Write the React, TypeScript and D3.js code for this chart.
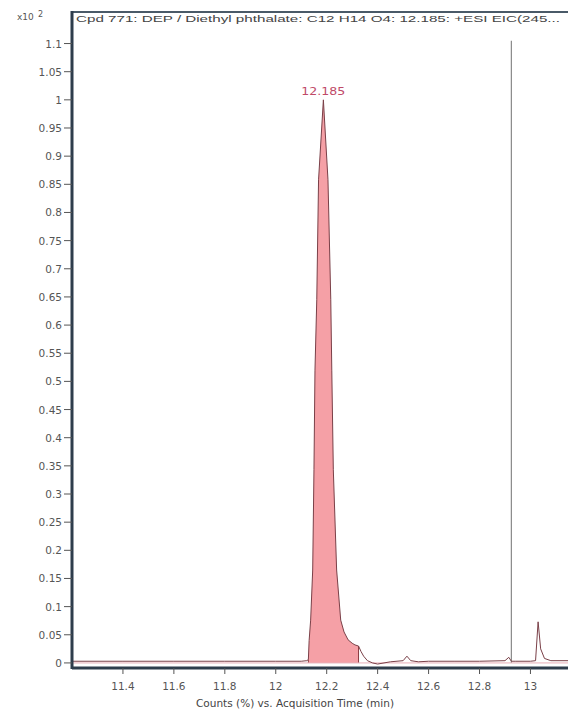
import React from "react";
import * as d3 from "d3";

const times = [11.2, 11.4, 11.6, 11.8, 12.0, 12.1, 12.122, 12.128, 12.131, 12.137, 12.145, 12.15, 12.154, 12.161, 12.168, 12.187, 12.205, 12.216, 12.22, 12.226, 12.239, 12.255, 12.268, 12.284, 12.3, 12.311, 12.325, 12.335, 12.345, 12.36, 12.38, 12.4, 12.45, 12.5, 12.515, 12.53, 12.56, 12.6, 12.7, 12.8, 12.9, 12.915, 12.925, 12.94, 13.0, 13.02, 13.03, 13.04, 13.055, 13.08, 13.2];
const counts = [0.003, 0.003, 0.003, 0.003, 0.003, 0.003, 0.004, 0.006, 0.04, 0.076, 0.165, 0.343, 0.52, 0.645, 0.858, 1.0, 0.858, 0.645, 0.52, 0.343, 0.165, 0.076, 0.055, 0.041, 0.035, 0.032, 0.03, 0.02, 0.012, 0.004, 0.0, -0.002, 0.002, 0.004, 0.012, 0.004, 0.002, 0.003, 0.003, 0.003, 0.004, 0.01, 0.003, 0.003, 0.003, 0.004, 0.073, 0.025, 0.008, 0.004, 0.004];
const fillStart = 12.128;
const fillEnd = 12.325;
const peakLabel = "12.185";
const markerTime = 12.925;
const yTicks = [0, 0.05, 0.1, 0.15, 0.2, 0.25, 0.3, 0.35, 0.4, 0.45, 0.5, 0.55, 0.6, 0.65, 0.7, 0.75, 0.8, 0.85, 0.9, 0.95, 1, 1.05, 1.1];
const xTicks = [11.4, 11.6, 11.8, 12, 12.2, 12.4, 12.6, 12.8, 13];
const title = "Cpd 771: DEP / Diethyl phthalate: C12 H14 O4: 12.185: +ESI EIC(245...";
const xTitle = "Counts (%) vs. Acquisition Time (min)";

export default function App() {
  const W = 568, H = 711;
  const left = 72, top = 12, bottom = 668;
  const x = d3.scaleLinear().domain([11.2, 13.2]).range([left, left + 2 * 254.7]);
  const y = d3.scaleLinear().domain([-0.009, 1.156]).range([bottom, top]);
  const pts = times.map((t, i) => [t, counts[i]] as [number, number]);
  const line = d3.line<[number, number]>().x(d => x(d[0])).y(d => y(d[1]));
  const fillPts = pts.filter(d => d[0] >= fillStart && d[0] <= fillEnd);
  const area = d3.area<[number, number]>().x(d => x(d[0])).y0(y(0)).y1(d => y(d[1]));
  const fmt = (v: number) => String(+v.toFixed(2));
  const font = "'Liberation Sans', Arial, sans-serif";
  const tickFont = "'DejaVu Sans', sans-serif";
  const apex = pts.reduce((a, b) => (b[1] > a[1] ? b : a));
  const valAt = (t: number) => pts.find(d => d[0] === t)?.[1] ?? 0;
  return (
    <svg width={W} height={H} style={{ position: "absolute", left: 0, top: 0, background: "#fff" }} fontFamily={font}>
      <defs>
        <clipPath id="plot">
          <rect x={left} y={top} width={W - left} height={bottom - top} />
        </clipPath>
      </defs>
      <line x1={left} x2={W} y1={top} y2={top} stroke="#4a5a68" strokeWidth={2} />
      <text x={left + 4} y={top + 10} fontSize={9.5} fill="#444" textLength={484} lengthAdjust="spacingAndGlyphs">{title}</text>
      <text x={17} y={top + 8} fontSize={9} fill="#555" fontFamily={tickFont}>x10</text>
      <text x={38} y={top + 5} fontSize={8} fill="#555" fontFamily={tickFont}>2</text>
      <g clipPath="url(#plot)">
        <line x1={x(markerTime)} x2={x(markerTime)} y1={y(1.105)} y2={y(0)} stroke="#888" strokeWidth={1.2} />
        <path d={area(fillPts) || ""} fill="#f5a0a6" stroke="none" />
        <line x1={x(fillStart)} x2={x(fillStart)} y1={y(0)} y2={y(valAt(fillStart))} stroke="#8a3a40" strokeWidth={1} />
        <line x1={x(fillEnd)} x2={x(fillEnd)} y1={y(0)} y2={y(valAt(fillEnd))} stroke="#8a3a40" strokeWidth={1} />
        <line x1={left} x2={W} y1={y(0)} y2={y(0)} stroke="#e8b0b8" strokeWidth={1} />
        <path d={line(pts) || ""} fill="none" stroke="#7a4048" strokeWidth={1} />
      </g>
      <text x={x(apex[0])} y={y(apex[1]) - 5} fontSize={10} fill="#c04a68" textAnchor="middle" fontFamily={tickFont} textLength={44} lengthAdjust="spacingAndGlyphs">{peakLabel}</text>
      <line x1={left} x2={left} y1={top - 1} y2={bottom + 1} stroke="#2e3d4c" strokeWidth={3} />
      <line x1={left} x2={W} y1={bottom} y2={bottom} stroke="#2e3d4c" strokeWidth={3} />
      {yTicks.map(v => (
        <g key={"y" + v}>
          <line x1={left - 8} x2={left} y1={y(v)} y2={y(v)} stroke="#555" strokeWidth={1} />
          <text x={left - 10} y={y(v) + 4} fontSize={10.5} fill="#555" textAnchor="end" fontFamily={tickFont}>{fmt(v)}</text>
        </g>
      ))}
      {xTicks.map(v => (
        <g key={"x" + v}>
          <line x1={x(v)} x2={x(v)} y1={bottom} y2={bottom + 6} stroke="#555" strokeWidth={1} />
          <text x={x(v)} y={bottom + 22} fontSize={10.5} fill="#555" textAnchor="middle" fontFamily={tickFont}>{fmt(v)}</text>
        </g>
      ))}
      <text x={295} y={707} fontSize={10} fill="#444" textAnchor="middle" fontFamily={tickFont} textLength={198} lengthAdjust="spacingAndGlyphs">{xTitle}</text>
    </svg>
  );
}
